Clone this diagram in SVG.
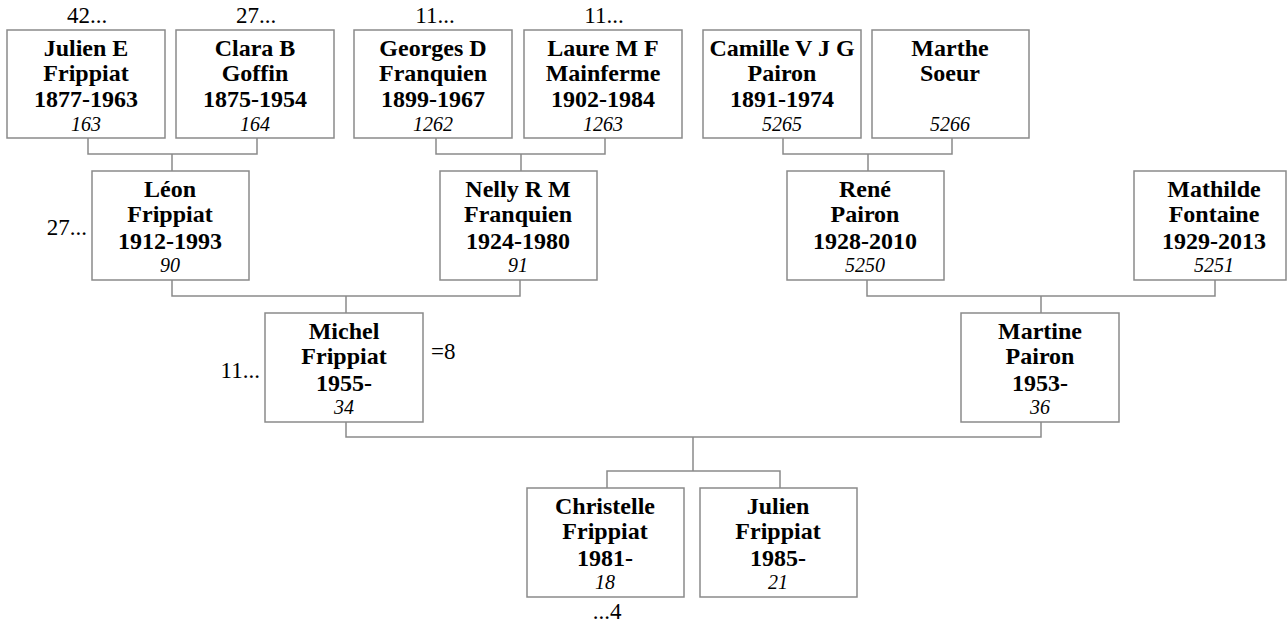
<svg xmlns="http://www.w3.org/2000/svg" width="1287" height="626" viewBox="0 0 1287 626">
<style>
.box{fill:#fff;stroke:#8a8a8a;stroke-width:1.5}
.b{font-family:"Liberation Serif","Times New Roman",serif;font-weight:bold;font-size:24px;fill:#000;text-anchor:middle}
.i{font-family:"Liberation Serif","Times New Roman",serif;font-style:italic;font-size:20px;fill:#000;text-anchor:middle}
.r{font-family:"Liberation Serif","Times New Roman",serif;font-size:23px;fill:#000}
.c{fill:none;stroke:#8a8a8a;stroke-width:1.5}
</style>
<rect width="1287" height="626" fill="#fff"/>
<g id="connectors" class="c">
<path d="M88,138V154H257V138M172,154V171"/>
<path d="M436,138V154H605V138M521,154V171"/>
<path d="M783,138V154H952V138M868,154V171"/>
<path d="M172,280V296H520V280M346,296V313"/>
<path d="M867,280V296H1215V280M1041,296V313"/>
<path d="M346,422V437H1041V422M693,437V471M607,488V471H780V488"/>
</g>
<g id="n163">
<rect class="box" x="7" y="30" width="158" height="108"/>
<text class="b" x="86" y="56">Julien E</text><text class="b" x="86" y="81">Frippiat</text><text class="b" x="86" y="107">1877-1963</text><text class="i" x="86" y="130.5">163</text>
<text class="r" x="87" y="23" text-anchor="middle">42...</text>
</g>
<g id="n164">
<rect class="box" x="176" y="30" width="158" height="108"/>
<text class="b" x="255" y="56">Clara B</text><text class="b" x="255" y="81">Goffin</text><text class="b" x="255" y="107">1875-1954</text><text class="i" x="255" y="130.5">164</text>
<text class="r" x="256" y="23" text-anchor="middle">27...</text>
</g>
<g id="n1262">
<rect class="box" x="354" y="30" width="158" height="108"/>
<text class="b" x="433" y="56">Georges D</text><text class="b" x="433" y="81">Franquien</text><text class="b" x="433" y="107">1899-1967</text><text class="i" x="433" y="130.5">1262</text>
<text class="r" x="435" y="23" text-anchor="middle">11...</text>
</g>
<g id="n1263">
<rect class="box" x="524" y="30" width="158" height="108"/>
<text class="b" x="603" y="56">Laure M F</text><text class="b" x="603" y="81">Mainferme</text><text class="b" x="603" y="107">1902-1984</text><text class="i" x="603" y="130.5">1263</text>
<text class="r" x="604" y="23" text-anchor="middle">11...</text>
</g>
<g id="n5265">
<rect class="box" x="703" y="30" width="158" height="108"/>
<text class="b" x="782" y="56">Camille V J G</text><text class="b" x="782" y="81">Pairon</text><text class="b" x="782" y="107">1891-1974</text><text class="i" x="782" y="130.5">5265</text>
</g>
<g id="n5266">
<rect class="box" x="872" y="30" width="157" height="108"/>
<text class="b" x="950" y="56">Marthe</text><text class="b" x="950" y="81">Soeur</text><text class="i" x="950" y="130.5">5266</text>
</g>
<g id="n90">
<rect class="box" x="92" y="171" width="157" height="109"/>
<text class="b" x="170" y="197">Léon</text><text class="b" x="170" y="222">Frippiat</text><text class="b" x="170" y="248.5">1912-1993</text><text class="i" x="170" y="271.5">90</text>
<text class="r" x="87" y="235" text-anchor="end">27...</text>
</g>
<g id="n91">
<rect class="box" x="440" y="171" width="157" height="109"/>
<text class="b" x="518" y="197">Nelly R M</text><text class="b" x="518" y="222">Franquien</text><text class="b" x="518" y="248.5">1924-1980</text><text class="i" x="518" y="271.5">91</text>
</g>
<g id="n5250">
<rect class="box" x="787" y="171" width="157" height="109"/>
<text class="b" x="865" y="197">René</text><text class="b" x="865" y="222">Pairon</text><text class="b" x="865" y="248.5">1928-2010</text><text class="i" x="865" y="271.5">5250</text>
</g>
<g id="n5251">
<rect class="box" x="1134" y="171" width="152" height="109"/>
<text class="b" x="1214" y="197">Mathilde</text><text class="b" x="1214" y="222">Fontaine</text><text class="b" x="1214" y="248.5">1929-2013</text><text class="i" x="1214" y="271.5">5251</text>
</g>
<g id="n34">
<rect class="box" x="265" y="313" width="158" height="109"/>
<text class="b" x="344" y="339">Michel</text><text class="b" x="344" y="364">Frippiat</text><text class="b" x="344" y="390.5">1955-</text><text class="i" x="344" y="413.5">34</text>
<text class="r" x="260" y="378" text-anchor="end">11...</text>
<text class="r" x="431" y="359">=8</text>
</g>
<g id="n36">
<rect class="box" x="961" y="313" width="158" height="109"/>
<text class="b" x="1040" y="339">Martine</text><text class="b" x="1040" y="364">Pairon</text><text class="b" x="1040" y="390.5">1953-</text><text class="i" x="1040" y="413.5">36</text>
</g>
<g id="n18">
<rect class="box" x="527" y="488" width="157" height="109"/>
<text class="b" x="605" y="514">Christelle</text><text class="b" x="605" y="539">Frippiat</text><text class="b" x="605" y="565.5">1981-</text><text class="i" x="605" y="588.5">18</text>
<text class="r" x="607" y="619" text-anchor="middle">...4</text>
</g>
<g id="n21">
<rect class="box" x="700" y="488" width="157" height="109"/>
<text class="b" x="778" y="514">Julien</text><text class="b" x="778" y="539">Frippiat</text><text class="b" x="778" y="565.5">1985-</text><text class="i" x="778" y="588.5">21</text>
</g>
</svg>
